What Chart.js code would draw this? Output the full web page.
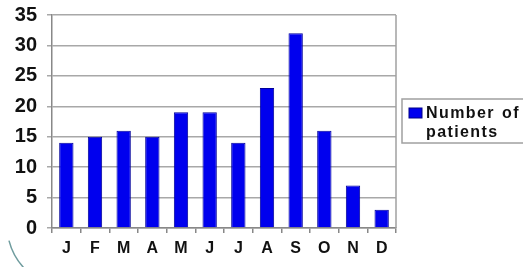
<!DOCTYPE html>
<html><head><meta charset="utf-8">
<script src="https://cdn.jsdelivr.net/npm/chart.js@4/dist/chart.umd.min.js"></script>
<style>html,body{margin:0;padding:0;background:#fff}#wrap{width:523px;height:267px}</style>
</head><body><div id="wrap"><canvas id="c" width="523" height="267"></canvas></div>
<script>
const categories = ["J","F","M","A","M","J","J","A","S","O","N","D"];
const patients = [14,15,16,15,19,19,14,23,32,16,7,3];
const seriesName = ["Number of","patients"];
const yTicks = [0,5,10,15,20,25,30,35];

const legendBox = {
  id: 'legendBox',
  afterDraw(chart) {
    const ctx = chart.ctx, a = chart.chartArea;
    ctx.save();
    // right border of plot
    ctx.strokeStyle = '#a0a0a0'; ctx.lineWidth = 1.5;
    ctx.beginPath(); ctx.moveTo(a.right, a.top); ctx.lineTo(a.right, a.bottom); ctx.stroke();
    // decorative arc bottom-left
    ctx.strokeStyle = '#6f9c9e'; ctx.lineWidth = 1.5;
    ctx.beginPath(); ctx.arc(70, 225, 63, Math.PI * 0.76, Math.PI * 0.92); ctx.stroke();
    // legend
    const x = a.right + 6, y = 99;
    ctx.strokeStyle = '#a0a0a0'; ctx.lineWidth = 1.5;
    ctx.strokeRect(x, y, 140, 44);
    ctx.fillStyle = '#0000ee'; ctx.strokeStyle = '#000088'; ctx.lineWidth = 1;
    ctx.fillRect(x + 7, 108, 13, 10); ctx.strokeRect(x + 7, 108, 13, 10);
    ctx.fillStyle = '#111';
    ctx.font = 'bold 16px "Liberation Sans", Arial, sans-serif';
    if ('letterSpacing' in ctx) ctx.letterSpacing = '1.4px';
    ctx.textBaseline = 'alphabetic';
    const words = seriesName[0].split(' ');
    ctx.fillText(words[0], x + 24, 118);
    ctx.fillText(words[1], x + 100, 118);
    ctx.fillText(seriesName[1], x + 24, 137);
    ctx.restore();
  }
};

const FONT = '"Liberation Sans", Arial, sans-serif';
new Chart(document.getElementById('c'), {
  type: 'bar',
  data: { labels: categories, datasets: [{ label: seriesName.join(' '), data: patients,
    backgroundColor: '#0000ee', borderColor: '#00009a', borderWidth: 1,
    categoryPercentage: 1, barPercentage: 0.5 }] },
  options: {
    responsive: false, animation: false, devicePixelRatio: 1,
    layout: { padding: { left: 0, top: 15, right: 127, bottom: 0 } },
    plugins: { legend: { display: false }, tooltip: { enabled: false } },
    scales: {
      x: {
        afterFit(s) { s.height = 39; s.paddingLeft = 0; s.paddingRight = 0; },
        offset: true,
        grid: { offset: true, drawOnChartArea: false, drawTicks: true, tickLength: 5, color: '#888', lineWidth: 1.5 },
        border: { color: '#888', width: 1.5 },
        ticks: { color: '#111', padding: 6, font: { family: FONT, weight: 'bold', size: 16 } }
      },
      y: {
        min: 0, max: 35,
        afterFit(s) { s.width = 52; s.paddingTop = 0; s.paddingBottom = 0; },
        afterBuildTicks(s) { s.ticks = yTicks.map(v => ({ value: v })); },
        grid: { color: '#a8a8a8', lineWidth: 1.5, tickLength: 5 },
        border: { color: '#888', width: 1.5 },
        ticks: { color: '#111', padding: 10, font: { family: FONT, weight: 'bold', size: 20 } }
      }
    }
  },
  plugins: [legendBox]
});
</script>
</body></html>
